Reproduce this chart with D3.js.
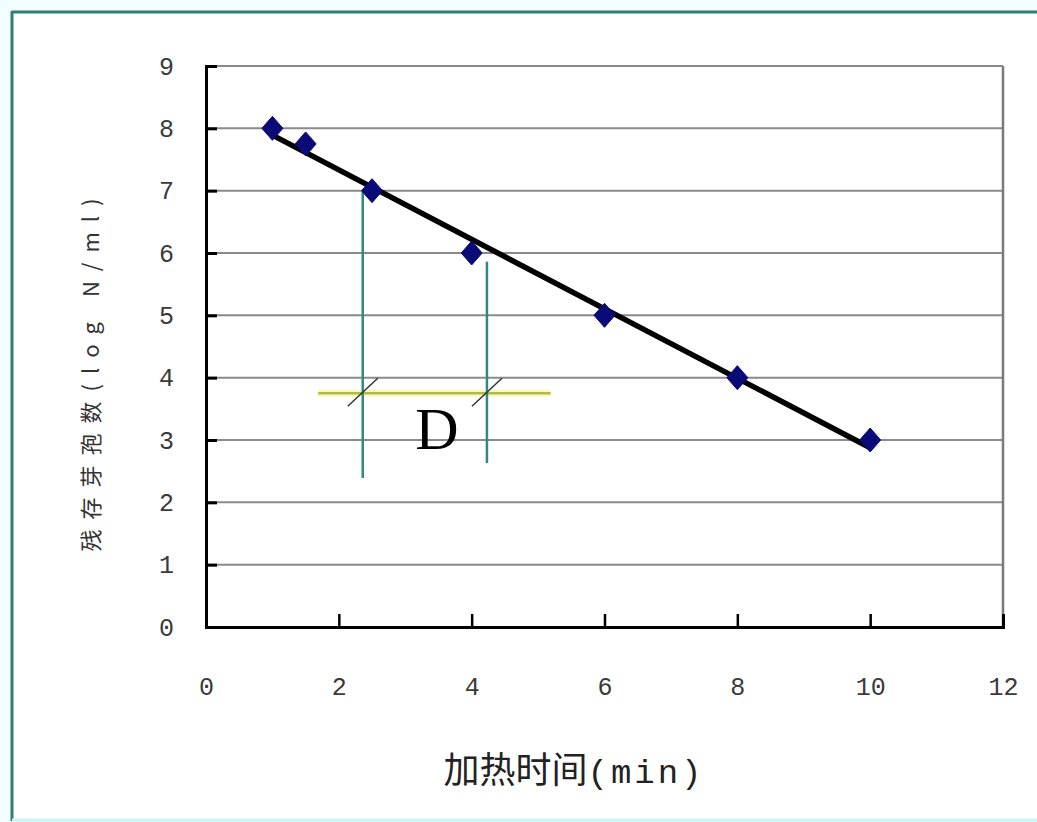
<!DOCTYPE html>
<html>
<head>
<meta charset="utf-8">
<script src="https://cdn.jsdelivr.net/npm/d3@7/dist/d3.min.js"></script>
<style>
  html, body { margin: 0; padding: 0; background: #f4fdfd; }
  svg { display: block; }
</style>
</head>
<body>
<svg id="chart" width="1037" height="822"></svg>
<script>
// Heating time (min) vs. surviving spore count (log N/ml)
const heatTimes = [1, 1.5, 2.5, 4, 6, 8, 10];
const survivorsLog = [8, 7.75, 7, 6, 5, 4, 3];
const xTickValues = [0, 2, 4, 6, 8, 10, 12];
const yTickValues = [0, 1, 2, 3, 4, 5, 6, 7, 8, 9];

// D-value construction: two drop lines and the reference level between them
const dropTimes = [2.36, 4.23];
const dropTops = [7.0, 5.86];
const dropBottoms = [2.39, 2.63];
const refLevel = 3.75;
const refSpan = [1.69, 5.19];
const dLabel = "D";

const xTitleHan = "加热时间";
const xTitleUnit = "(min)";
const yTitle = "残存芽孢数(log N/ml)";

const svg = d3.select("#chart");
const W = 1037, H = 822;

// outer frame
svg.append("rect").attr("x", 0).attr("y", 0).attr("width", W).attr("height", H).attr("fill", "#f2fdfd");
svg.append("rect").attr("x", 13).attr("y", 13).attr("width", W - 13).attr("height", 806)
  .attr("fill", "#ffffff");
svg.append("line").attr("x1", 12).attr("x2", W).attr("y1", 12).attr("y2", 12)
  .attr("stroke", "#2f7f73").attr("stroke-width", 3);
svg.append("line").attr("x1", 12).attr("x2", 12).attr("y1", 11).attr("y2", 821)
  .attr("stroke", "#2f7f73").attr("stroke-width", 3);
svg.append("line").attr("x1", 12).attr("x2", W).attr("y1", 820).attr("y2", 820)
  .attr("stroke", "#c8f4f6").attr("stroke-width", 3);

const x = d3.scaleLinear().domain([0, 12]).range([206, 1003]);
const y = d3.scaleLinear().domain([0, 9]).range([627, 66]);

// horizontal gridlines
svg.append("g").selectAll("line").data(yTickValues.filter(v => v > 0)).join("line")
  .attr("x1", x(0)).attr("x2", x(12))
  .attr("y1", d => y(d)).attr("y2", d => y(d))
  .attr("stroke", "#8a8a8a").attr("stroke-width", 2);

// right plot border
svg.append("line").attr("x1", x(12)).attr("x2", x(12)).attr("y1", y(9)).attr("y2", y(0))
  .attr("stroke", "#7a7a7a").attr("stroke-width", 2.5);

const tickFont = "'Liberation Mono', 'DejaVu Sans Mono', monospace";

// y axis: inward ticks, labels placed further left
const yAxis = d3.axisLeft(y).tickValues(yTickValues).tickSize(-11).tickPadding(30)
  .tickFormat(d3.format("d"));
const gy = svg.append("g").attr("transform", `translate(${x(0)},0)`).call(yAxis);
gy.select(".domain").attr("stroke", "#000").attr("stroke-width", 3);
gy.selectAll(".tick line").attr("stroke", "#000").attr("stroke-width", 3);
gy.selectAll(".tick text").attr("font-family", tickFont).attr("font-size", 25)
  .attr("fill", "#3a3a3a").attr("x", -32).attr("dy", "0.32em");

// x axis
const xAxis = d3.axisBottom(x).tickValues(xTickValues).tickSize(-13).tickPadding(50)
  .tickFormat(d3.format("d"));
const gx = svg.append("g").attr("transform", `translate(0,${y(0)})`).call(xAxis);
gx.select(".domain").attr("stroke", "#000").attr("stroke-width", 3);
gx.selectAll(".tick line").attr("stroke", "#000").attr("stroke-width", 2.5);
gx.selectAll(".tick text").attr("font-family", tickFont).attr("font-size", 25)
  .attr("fill", "#3a3a3a");
gx.selectAll(".tick").filter(d => d === 0 || d === 12).select("line").remove();

// D-value construction lines
svg.append("line")
  .attr("x1", x(refSpan[0])).attr("x2", x(refSpan[1]))
  .attr("y1", y(refLevel)).attr("y2", y(refLevel))
  .attr("stroke", "#f4f7c0").attr("stroke-width", 7).attr("opacity", 0.8);
svg.append("line")
  .attr("x1", x(refSpan[0])).attr("x2", x(refSpan[1]))
  .attr("y1", y(refLevel)).attr("y2", y(refLevel))
  .attr("stroke", "#b3bb3c").attr("stroke-width", 2.5);

svg.append("g").selectAll("line").data(dropTimes).join("line")
  .attr("x1", d => x(d)).attr("x2", d => x(d))
  .attr("y1", (d, i) => y(dropTops[i])).attr("y2", (d, i) => y(dropBottoms[i]))
  .attr("stroke", "#2f8a80").attr("stroke-width", 2.5);

// slash marks where the drop lines cross the reference level
svg.append("g").selectAll("line").data(dropTimes).join("line")
  .attr("x1", d => x(d) - 15).attr("x2", d => x(d) + 15)
  .attr("y1", y(refLevel) + 13).attr("y2", y(refLevel) - 15)
  .attr("stroke", "#333").attr("stroke-width", 1.5);

svg.append("text")
  .attr("x", x((dropTimes[0] + dropTimes[1]) / 2) + 12).attr("y", 449)
  .attr("text-anchor", "middle")
  .attr("font-family", "'Liberation Serif', 'DejaVu Serif', serif")
  .attr("font-size", 60).attr("fill", "#000")
  .text(dLabel);

// least-squares trendline through the survivor counts
const mx = d3.mean(heatTimes), my = d3.mean(survivorsLog);
const sxy = d3.sum(heatTimes, (v, i) => (v - mx) * (survivorsLog[i] - my));
const sxx = d3.sum(heatTimes, v => (v - mx) * (v - mx));
const slope = sxy / sxx, intercept = my - slope * mx;
const xmin = d3.min(heatTimes), xmax = d3.max(heatTimes);
svg.append("line")
  .attr("x1", x(xmin)).attr("y1", y(intercept + slope * xmin))
  .attr("x2", x(xmax)).attr("y2", y(intercept + slope * xmax))
  .attr("stroke", "#000").attr("stroke-width", 5.5);

// diamond markers
svg.append("g").selectAll("path").data(heatTimes).join("path")
  .attr("transform", (d, i) => `translate(${x(d)},${y(survivorsLog[i])})`)
  .attr("d", "M0,-12L10.5,0L0,12L-10.5,0Z")
  .attr("fill", "#0a0a78").attr("stroke", "#0a0a78").attr("stroke-width", 1);

// axis titles
const xt = svg.append("text")
  .attr("x", 574).attr("y", 783).attr("text-anchor", "middle")
  .attr("font-family", "'Noto Sans CJK SC', sans-serif")
  .attr("font-size", 36).attr("fill", "#222");
xt.append("tspan").text(xTitleHan);
xt.append("tspan").attr("font-family", "'Liberation Mono', monospace")
  .attr("font-size", 34).attr("letter-spacing", 3).text(xTitleUnit);

svg.append("text")
  .attr("transform", "translate(99,370) rotate(-90)")
  .attr("text-anchor", "middle")
  .attr("font-family", "'Noto Sans CJK SC', sans-serif")
  .attr("font-size", 22).attr("fill", "#333").attr("letter-spacing", 10)
  .text(yTitle);
</script>
</body>
</html>
